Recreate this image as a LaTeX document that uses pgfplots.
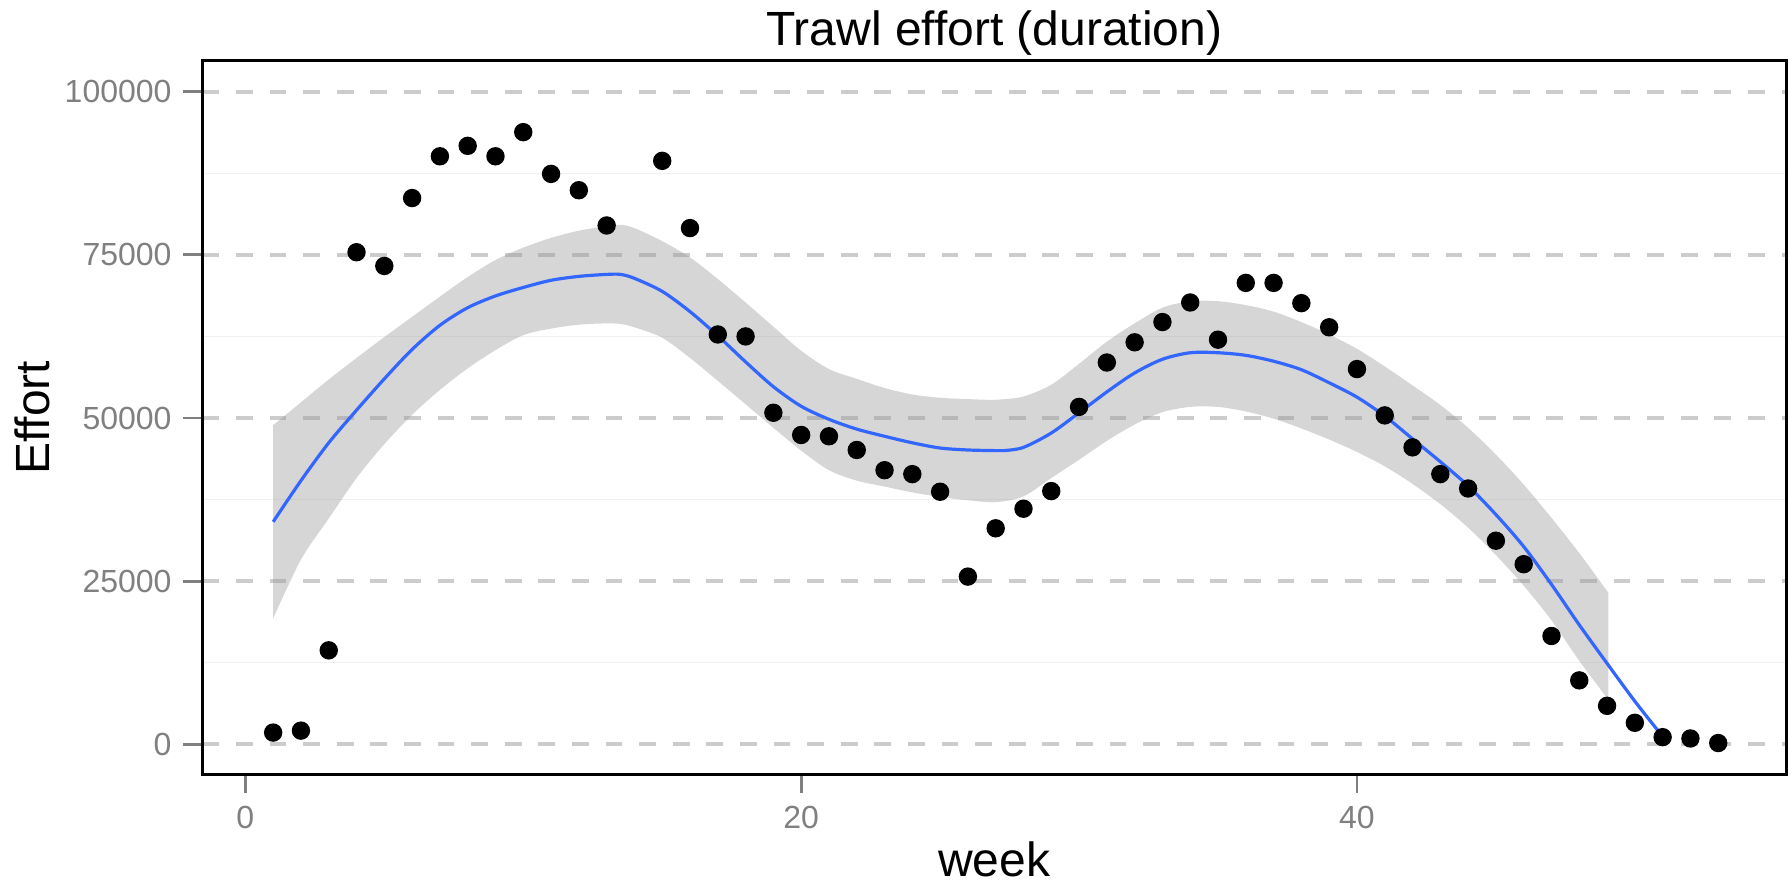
\documentclass[border=0pt]{standalone}
\usepackage{fontspec}
\setmainfont{Liberation Sans}
\usepackage{pgfplots}
\usepackage{pgfplotstable}
\pgfplotsset{compat=1.18}
\usepgfplotslibrary{fillbetween}
\definecolor{smoothblue}{HTML}{3366FF}

\pgfplotstableread{
week effort
1 1800
2 2100
3 14400
4 75400
5 73300
6 83700
7 90100
8 91700
9 90100
10 93800
11 87400
12 84900
13 79500
15 89400
16 79100
17 62800
18 62500
19 50800
20 47400
21 47200
22 45100
23 42000
24 41400
25 38700
26 25700
27 33100
28 36100
29 38800
30 51700
31 58500
32 61600
33 64700
34 67700
35 62000
36 70700
37 70700
38 67600
39 63900
40 57500
41 50400
42 45500
43 41400
44 39200
45 31200
46 27600
47 16600
48 9800
49 5900
50 3300
51 1100
52 900
53 200
}\tablepts

\pgfplotstableread{
week fit
1 34100
2 40400
3 46200
4 51200
5 56000
6 60500
7 64200
8 66900
9 68700
10 70000
11 71100
12 71700
13 72000
13.5 72000
14 71400
15 69400
16 66300
17 62600
18 58600
19 54800
20 51800
21 49800
22 48300
23 47200
24 46200
25 45400
26 45100
27 45000
27.3 45000
28 45500
29 47700
30 50800
31 54000
32 56900
33 59000
34 60000
35 60000
36 59600
37 58700
38 57400
39 55400
40 53200
41 50300
42 46800
43 43300
44 39600
45 35200
46 30300
47 24500
48 18300
49 12400
50 6600
51 1200
}\tablefit

\pgfplotstableread{
week lo hi
1 19300 48900
2 28300 52400
3 34600 55900
4 40800 59200
5 46000 62400
6 50500 65500
7 54300 68600
8 57600 71600
9 60400 74200
10 62700 76100
11 63700 77600
12 64300 78700
13 64500 79400
13.5 64400 79600
14 63900 79100
15 62300 77100
16 59200 74600
17 55700 71300
18 52100 67700
19 48500 64000
20 45000 60300
21 42000 57500
22 40400 56000
23 39500 54600
24 38600 53600
25 37900 53100
26 37400 52900
27 37100 52800
28 38000 53300
29 40800 55100
30 43600 58300
31 46500 61700
32 49000 64500
33 50900 66900
34 51700 67900
35 51700 67900
36 51000 67300
37 49900 66300
38 48400 64700
39 46700 62800
40 44800 60600
41 42600 57900
42 39900 55000
43 36800 52000
44 33200 48500
45 29000 44400
46 24300 39800
47 19000 34700
48 12800 29300
49.05 6800 23200
}\tablerib

\begin{document}
\begin{tikzpicture}
\begin{axis}[
  at={(0,0)}, anchor=south west,
  scale only axis, width=396pt, height=178.5pt,
  xmin=-1.55, xmax=55.45, ymin=-4650, ymax=104750,
  xtick={0,20,40}, xticklabels={0,20,40},
  ytick={0,25000,50000,75000,100000},
  yticklabels={0,25000,50000,75000,100000},
  scaled y ticks=false, scaled x ticks=false,
  minor ytick={12500,37500,62500,87500},
  ymajorgrids, yminorgrids,
  major grid style={dash pattern=on 4.2pt off 4.2pt, line width=1pt, color=black!20},
  minor grid style={line width=0.35pt, color=black!6},
  tick align=outside, tick pos=left,
  major tick length=4.7pt, minor tick length=0pt,
  major tick style={line width=0.7pt, color=black!50},
  ticklabel style={font=\fontsize{8}{9}\selectfont, text=black!50, inner sep=0pt},
  yticklabel style={xshift=-2.8pt},
  xticklabel style={yshift=-3pt},
  /pgf/number format/assume math mode=true,
  axis line style={line width=0.75pt, black},
]
\addplot[name path=hi, draw=none, smooth, forget plot] table[x=week, y=hi] \tablerib;
\addplot[name path=lo, draw=none, smooth, forget plot] table[x=week, y=lo] \tablerib;
\addplot[fill=black!40, fill opacity=0.4, draw=none] fill between[of=hi and lo];
\addplot[smooth, tension=0.5, color=smoothblue, line width=0.8pt, mark=none] table[x=week, y=fit] \tablefit;
\addplot[only marks, mark=*, mark size=2.1pt, black] table[x=week, y=effort] \tablepts;
\end{axis}
\node[anchor=base, font=\fontsize{12}{14}\selectfont] at (198pt,182.4pt) {Trawl effort (duration)};
\node[anchor=base, font=\fontsize{12}{14}\selectfont] at (198pt,-25.5pt) {week};
\node[anchor=base, rotate=90, font=\fontsize{12}{14}\selectfont] at (-38.1pt,89.25pt) {Effort};
\pgfresetboundingbox
\useasboundingbox (-50.575pt,-27.325pt) rectangle (396.425pt,193.675pt);
\end{tikzpicture}
\end{document}
